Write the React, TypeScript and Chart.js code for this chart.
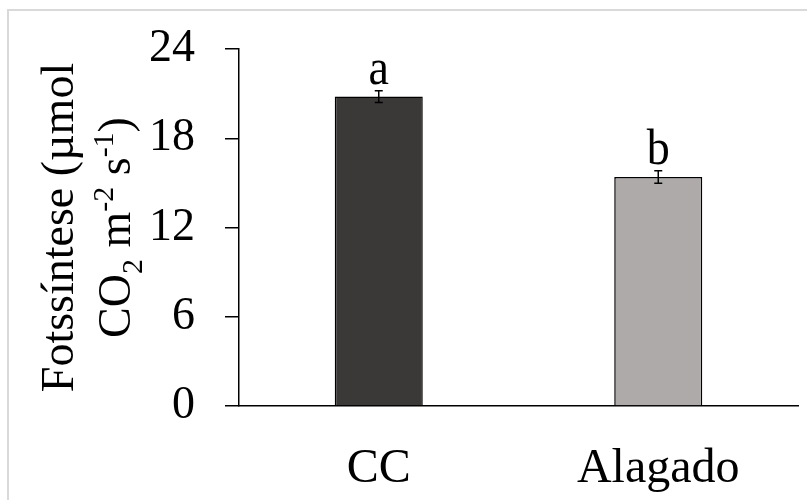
import React, { useEffect, useRef } from 'react';
import { Chart, registerables } from 'chart.js';

Chart.register(...registerables);

// ---- data ----
const categories = ['CC', 'Alagado'];
const values = [20.8, 15.4];
const errors = [0.4, 0.42];
const letters = ['a', 'b'];
const barColors = ['#3B3838', '#AEAAAA'];
const yMin = 0;
const yMax = 24;
const yStep = 6;
const yTitleLine1 = [{ t: 'Fotssíntese (µmol', k: 'n' }];
const yTitleLine2 = [
  { t: 'CO', k: 'n' },
  { t: '2', k: 'sub' },
  { t: ' m', k: 'n' },
  { t: '-2', k: 'sup' },
  { t: ' s', k: 'n' },
  { t: '-1', k: 'sup' },
  { t: ')', k: 'n' },
];

const FONT = '"Liberation Serif", "Times New Roman", Times, serif';
const STRETCH = 1.1;

function drawRichRotated(ctx: CanvasRenderingContext2D, segs: { t: string; k: string }[], bx: number, cy: number, size: number) {
  const small = Math.round(size * 0.65);
  const fontFor = (k: string) => `${k === 'n' ? size : small}px ${FONT}`;
  ctx.save();
  ctx.translate(bx, cy);
  ctx.rotate(-Math.PI / 2);
  let total = 0;
  for (const s of segs) {
    ctx.font = fontFor(s.k);
    total += ctx.measureText(s.t).width;
  }
  let x = -total / 2;
  ctx.textAlign = 'left';
  ctx.textBaseline = 'alphabetic';
  ctx.fillStyle = '#000';
  for (const s of segs) {
    ctx.font = fontFor(s.k);
    const dy = s.k === 'sub' ? size * 0.26 : s.k === 'sup' ? -size * 0.36 : 0;
    ctx.fillText(s.t, x, dy);
    x += ctx.measureText(s.t).width;
  }
  ctx.restore();
}

const titlePlugin = {
  id: 'yTitleRich',
  afterDraw(chart: any) {
    const ctx = chart.ctx as CanvasRenderingContext2D;
    const a = chart.chartArea;
    const cy = (a.top + a.bottom) / 2;
    drawRichRotated(ctx, yTitleLine1, 73, cy, 46);
    drawRichRotated(ctx, yTitleLine2, 130, cy, 46);
  },
};

const errorPlugin = {
  id: 'errorBarsLetters',
  afterDatasetsDraw(chart: any) {
    const ctx = chart.ctx as CanvasRenderingContext2D;
    const yScale = chart.scales.y;
    const meta = chart.getDatasetMeta(0);
    ctx.save();
    meta.data.forEach((el: any, i: number) => {
      const x = el.x;
      const yTop = yScale.getPixelForValue(values[i] + errors[i]);
      const yBot = yScale.getPixelForValue(values[i] - errors[i]);
      ctx.strokeStyle = '#000';
      ctx.lineWidth = 1.5;
      ctx.beginPath();
      ctx.moveTo(x, yTop);
      ctx.lineTo(x, yBot);
      ctx.moveTo(x - 4, yTop);
      ctx.lineTo(x + 4, yTop);
      ctx.moveTo(x - 4, yBot);
      ctx.lineTo(x + 4, yBot);
      ctx.stroke();
      ctx.save();
      ctx.translate(x, yTop - 7);
      ctx.scale(1, STRETCH);
      ctx.font = `46px ${FONT}`;
      ctx.fillStyle = '#000';
      ctx.textAlign = 'center';
      ctx.textBaseline = 'alphabetic';
      ctx.fillText(letters[i], 0, 0);
      ctx.restore();
    });
    ctx.restore();
  },
};

export default function App() {
  const ref = useRef<HTMLCanvasElement | null>(null);
  useEffect(() => {
    if (!ref.current) return;
    const chart = new Chart(ref.current, {
      type: 'bar',
      data: {
        labels: categories,
        datasets: [
          {
            data: values,
            backgroundColor: barColors,
            borderColor: '#000',
            borderWidth: 1.5,
            barPercentage: 0.315,
            categoryPercentage: 1,
          },
        ],
      },
      options: {
        animation: false,
        responsive: false,
        devicePixelRatio: 1,
        layout: { padding: { left: 0, top: 49, right: 9, bottom: 0 } },
        plugins: { legend: { display: false }, tooltip: { enabled: false }, title: { display: false } },
        scales: {
          x: {
            grid: { display: false },
            border: { display: true, color: '#000', width: 1.5 },
            ticks: { color: '#000', font: { family: FONT, size: 48 }, padding: 27 },
            afterFit(scale: any) {
              scale.height = 94;
              scale.paddingLeft = 0;
              scale.paddingRight = 0;
            },
          },
          y: {
            min: yMin,
            max: yMax,
            ticks: { stepSize: yStep, color: '#000', font: { family: FONT, size: 46 }, padding: 30 },
            grid: { drawOnChartArea: false, drawTicks: true, tickLength: 14, color: '#000', lineWidth: 1.5 },
            border: { display: true, color: '#000', width: 1.5 },
            afterFit(scale: any) {
              scale.width = 239;
              scale.paddingTop = 0;
              scale.paddingBottom = 0;
            },
          },
        },
      },
      plugins: [errorPlugin, titlePlugin],
    });
    return () => chart.destroy();
  }, []);

  return (
    <div style={{ position: 'fixed', left: 0, top: 0, width: 807, height: 500, overflow: 'hidden', background: '#fff' }}>
      <div
        style={{
          position: 'absolute',
          left: 7,
          top: 9,
          width: 820,
          height: 520,
          border: '2px solid #d9d9d9',
          boxSizing: 'border-box',
        }}
      />
      <canvas ref={ref} width={807} height={500} style={{ position: 'absolute', left: 0, top: 0, width: 807, height: 500 }} />
    </div>
  );
}
